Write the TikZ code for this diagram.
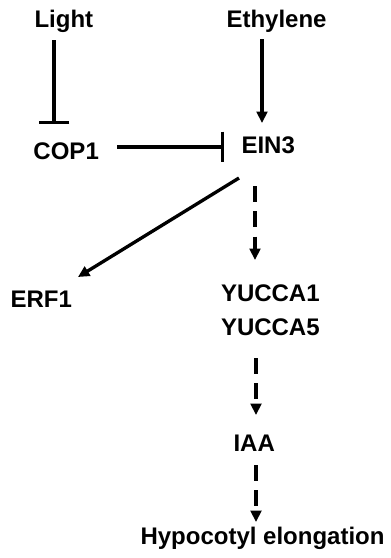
\documentclass[tikz,border=0pt]{standalone}
\usepackage{fontspec}
\setmainfont{Liberation Sans}
\usetikzlibrary{arrows.meta}
\begin{document}
\begin{tikzpicture}[x=0.75pt,y=-0.75pt,
  lbl/.style={anchor=base west,inner sep=0pt,outer sep=0pt,font=\fontsize{18}{21}\selectfont\bfseries},
  conn/.style={line width=2.5pt},
  act/.style={conn,-{Triangle[length=8.5pt,width=8pt]}},
  inh/.style={conn,-{Bar[width=23pt]}},
  dsh/.style={act,dash pattern=on 12pt off 7pt}]
\useasboundingbox (0,0) rectangle (391,558);
\node[lbl] (light) at (34.5,27) {Light};
\node[lbl] (eth) at (226.5,27) {Ethylene};
\node[lbl] (cop) at (33.5,159) {COP1};
\node[lbl] (ein) at (241.5,153) {EIN3};
\node[lbl] (erf) at (10.5,307) {ERF1};
\node[lbl] (yuc1) at (221,301) {YUCCA1};
\node[lbl] (yuc5) at (221,335) {YUCCA5};
\node[lbl] (iaa) at (233.5,451) {IAA};
\node[lbl] (hyp) at (140.5,544) {Hypocotyl elongation};
\draw[inh] ([shift={(19.5,13)}]light.base west) -- ([shift={(20.5,-35)}]cop.base west);
\draw[act] ([shift={(35.5,12)}]eth.base west) -- ([shift={(20.5,-30)}]ein.base west);
\draw[inh] ([shift={(83.5,-12)}]cop.base west) -- ([shift={(-17.5,-6)}]ein.base west);
\draw[act] ([shift={(-2.5,25)}]ein.base west) -- ([shift={(67.5,-30)}]erf.base west);
\draw[dsh] ([shift={(13.5,33)}]ein.base west) -- ([shift={(34,-41)}]yuc1.base west);
\draw[dsh] ([shift={(35,23)}]yuc5.base west) -- ([shift={(22.5,-36)}]iaa.base west);
\draw[dsh] ([shift={(22.5,14)}]iaa.base west) -- ([shift={(115.5,-22)}]hyp.base west);
\end{tikzpicture}
\end{document}
